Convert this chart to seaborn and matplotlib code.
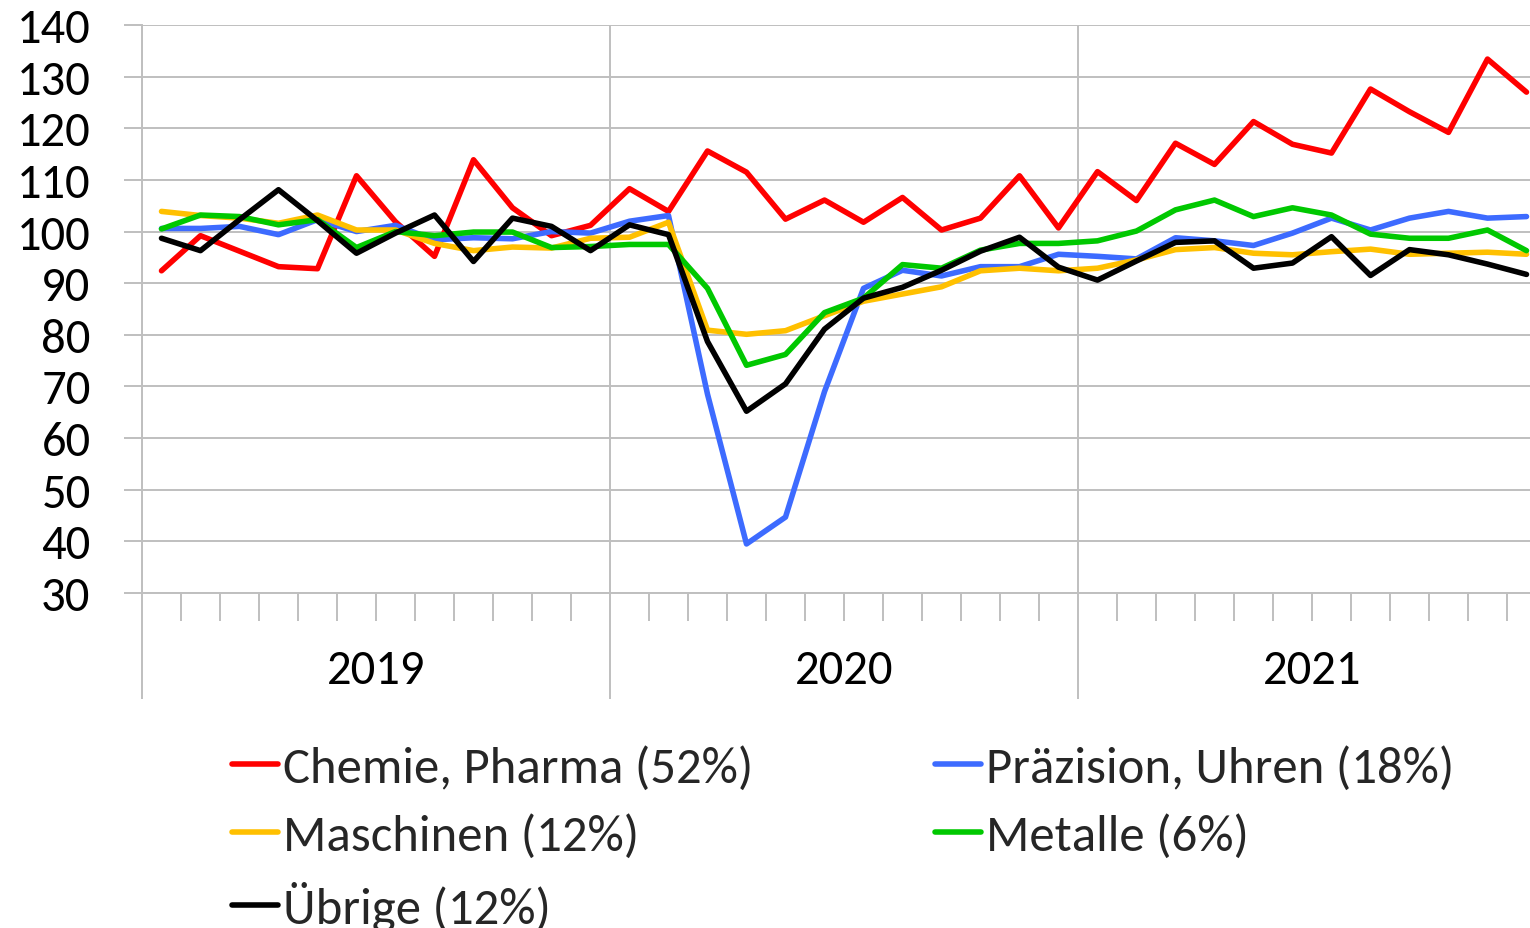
import matplotlib
matplotlib.use("Agg")
import matplotlib.pyplot as plt
from matplotlib.lines import Line2D
import numpy as np
import pandas as pd
import seaborn as sns

# ---------------- data ----------------
years = ["2019", "2020", "2021"]
series = ["Chemie, Pharma (52%)", "Präzision, Uhren (18%)", "Maschinen (12%)",
          "Metalle (6%)", "Übrige (12%)"]
colors = ["#FF0000", "#3D6BFF", "#FFC000", "#00C800", "#000000"]

chemie = [92.4, 99.2, 96.2, 93.2, 92.8, 110.8, 101.9, 95.2, 113.9, 104.6, 99.2, 101.2,
          108.3, 103.9, 115.6, 111.5, 102.4, 106.1, 101.8, 106.6, 100.3, 102.6, 110.8, 100.7,
          111.6, 106.0, 117.1, 113.0, 121.3, 116.9, 115.2, 127.6, 123.2, 119.2, 133.4, 127.0]
praezision = [100.6, 100.6, 101.0, 99.4, 102.3, 100.0, 101.2, 98.4, 98.8, 98.6, 100.0, 99.7,
              102.0, 103.1, 68.5, 39.5, 44.7, 69.0, 89.0, 92.5, 91.4, 93.2, 93.2, 95.6,
              95.2, 94.7, 98.8, 98.2, 97.3, 99.7, 102.6, 100.3, 102.6, 103.9, 102.6, 102.9]
maschinen = [103.9, 103.1, 102.6, 101.6, 103.2, 100.3, 100.3, 97.7, 96.3, 97.0, 96.8, 98.7,
             98.9, 101.8, 80.9, 80.1, 80.8, 83.7, 86.5, 87.9, 89.3, 92.4, 92.9, 92.4,
             92.9, 94.5, 96.5, 96.9, 95.8, 95.5, 96.1, 96.6, 95.6, 95.8, 96.0, 95.6]
metalle = [100.5, 103.2, 102.9, 101.3, 102.3, 96.9, 100.0, 99.2, 99.9, 99.9, 96.9, 97.1,
           97.5, 97.5, 89.0, 74.1, 76.2, 84.3, 87.1, 93.6, 92.9, 96.4, 97.7, 97.7,
           98.2, 100.1, 104.2, 106.1, 102.9, 104.6, 103.2, 99.5, 98.7, 98.7, 100.3, 96.3]
uebrige = [98.7, 96.3, 102.3, 108.1, 102.1, 95.8, 99.7, 103.2, 94.2, 102.6, 101.0, 96.3,
           101.3, 99.4, 78.7, 65.2, 70.5, 81.1, 87.1, 89.2, 92.5, 96.2, 98.9, 93.1,
           90.6, 94.3, 97.9, 98.2, 92.9, 93.9, 99.0, 91.5, 96.5, 95.5, 93.7, 91.7]
values = [chemie, praezision, maschinen, metalle, uebrige]
yticks = [30, 40, 50, 60, 70, 80, 90, 100, 110, 120, 130, 140]

# ---------------- style ----------------
sns.set_style("white")
FONT = ["Carlito", "Lato", "DejaVu Sans"]
plt.rcParams["font.family"] = FONT
GRID = "#BFBFBF"
FS = 35
LFS = 36.5
LW = 4.0

W, H = 1530, 929
fig = plt.figure(figsize=(W / 100, H / 100), dpi=100)
ax = fig.add_axes([142 / W, 1 - 594 / H, 1404 / W, 568 / H])

rows = []
for name, vals in zip(series, values):
    for i, v in enumerate(vals):
        rows.append({"pos": i + 0.5, "value": v, "series": name})
df = pd.DataFrame(rows)

sns.lineplot(data=df, x="pos", y="value", hue="series", hue_order=series,
             palette=colors, linewidth=LW, ax=ax, legend=False, sort=False,
             solid_joinstyle="round", solid_capstyle="round")

ax.set_xlim(0, 36)
ax.set_ylim(30, 140)
ax.set_xlabel("")
ax.set_ylabel("")

for s in ["top", "right"]:
    ax.spines[s].set_visible(False)
for s in ["left", "bottom"]:
    ax.spines[s].set_color(GRID)
    ax.spines[s].set_linewidth(1.4)

ax.set_yticks(yticks)
ax.set_yticklabels([str(t) for t in yticks])
ax.tick_params(axis="y", left=True, length=13, width=1.4, color=GRID, pad=24,
               labelsize=FS, labelcolor="black", direction="out")
ax.yaxis.grid(True, color=GRID, linewidth=1.4)

ax.set_xticks([0, 12, 24, 36])
ax.set_xticks([m for m in range(1, 36) if m % 12 != 0], minor=True)
ax.tick_params(axis="x", which="major", bottom=True, length=76, width=1.4,
               color=GRID, labelbottom=False, direction="out")
ax.tick_params(axis="x", which="minor", bottom=True, length=20, width=1.4,
               color=GRID, labelbottom=False, direction="out")
ax.xaxis.grid(True, which="major", color=GRID, linewidth=1.4)

trans = ax.get_xaxis_transform()
for k, y in enumerate(years):
    ax.text(6 + 12 * k, -(671 - 594) / 568, y, transform=trans, ha="center",
            va="center", fontsize=FS, color="black")

# ---------------- legend ----------------
handles = [Line2D([], [], color=c, linewidth=LW) for c in colors]
order = [0, 2, 4, 1, 3]
fs_px = LFS * 100 / 72
renderer = fig.canvas.get_renderer()
tmp = [fig.text(0, 0, series[i], fontsize=LFS) for i in [0, 2, 4]]
tw = max(t.get_window_extent(renderer).width for t in tmp)
for t in tmp:
    t.remove()
hl = 46 / fs_px
hp = 5 / fs_px
colsp = (935 - 232 - 46 - 5 - tw) / fs_px
leg = fig.legend([handles[i] for i in order], [series[i] for i in order],
                 loc="upper left", bbox_to_anchor=(232 / W, 1 - 746 / H),
                 ncol=2, frameon=False, fontsize=LFS, handlelength=hl,
                 handletextpad=hp, columnspacing=colsp, labelspacing=0.45,
                 borderpad=0, borderaxespad=0)

fig.savefig("out.png", dpi=100)
